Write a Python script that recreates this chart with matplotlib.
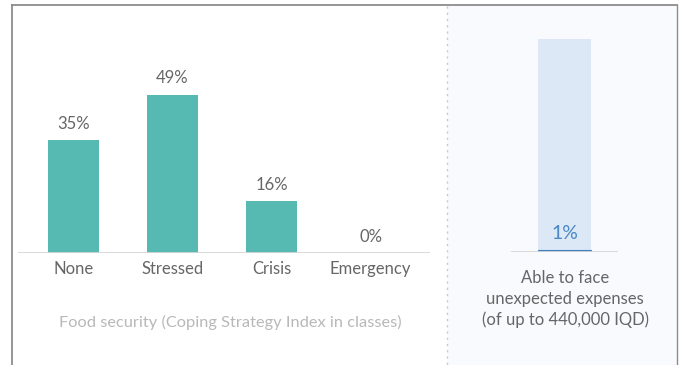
import matplotlib.pyplot as plt
from matplotlib.patches import Rectangle
from matplotlib.lines import Line2D

plt.rcParams['font.family'] = ['Lato', 'DejaVu Sans']

# Food security classes (CSI)
categories = ['None', 'Stressed', 'Crisis', 'Emergency']
shares = [35, 49, 16, 0]

# Ability to face unexpected expenses
expense_label = 'Able to face\nunexpected expenses\n(of up to 440,000 IQD)'
expense_share = 1

W, H = 684, 365
fig = plt.figure(figsize=(W / 100, H / 100), dpi=100)


def fx(px):
    return px / W


def fy(py):
    return 1 - py / H


# right panel background and outer frame
fig.patches.append(Rectangle((fx(447), 0), fx(677) - fx(447), fy(5),
                             transform=fig.transFigure, facecolor='#f8fafd',
                             edgecolor='none', zorder=-5))
frame = '#8c8c8c'
fig.lines.append(Line2D([fx(12), fx(677)], [fy(5), fy(5)], transform=fig.transFigure,
                        color=frame, lw=1.3))
fig.lines.append(Line2D([fx(12), fx(12)], [fy(5), 0], transform=fig.transFigure,
                        color=frame, lw=1.3))
fig.lines.append(Line2D([fx(677), fx(677)], [fy(5), 0], transform=fig.transFigure,
                        color=frame, lw=1.0))
fig.lines.append(Line2D([fx(447), fx(447)], [fy(6), 0], transform=fig.transFigure,
                        color='#c8c8c8', lw=1.0, ls=(0, (1.5, 3))))

text_col = '#666666'

# left chart
base = 253
ax = fig.add_axes([fx(18), fy(base), fx(430) - fx(18), (55 * 3.23) / H])
ax.set_xlim(-0.56, 3.6)
ax.set_ylim(0, 55)
ax.axis('off')
ax.bar(range(len(categories)), shares, width=0.515, color='#57bab2')
ax.axhline(0, color='#d6d6d6', lw=2)
for i, v in enumerate(shares):
    ax.annotate(f'{v}%', (i, v), xytext=(0, 6), textcoords='offset points',
                ha='center', va='bottom', fontsize=12, color=text_col)
    ax.annotate(categories[i], (i, 0), xytext=(0, -6), textcoords='offset points',
                ha='center', va='top', fontsize=12, color=text_col)
fig.text(fx(230), fy(322), 'Food security (Coping Strategy Index in classes)',
         ha='center', va='center', fontsize=11.8, color='#b8b8b8')

# right chart
rbase = 252
ax2 = fig.add_axes([fx(511), fy(rbase), fx(618) - fx(511), (rbase - 39) / H])
ax2.set_xlim(-1, 1)
ax2.set_ylim(0, 100)
ax2.axis('off')
ax2.bar(0, 100, width=1.0, color='#dce8f5')
ax2.axhline(0, color='#d6d6d6', lw=2)
ax2.bar(0, expense_share, width=1.0, color='#3f80c4', edgecolor='#3f80c4', lw=0.8)
ax2.annotate(f'{expense_share}%', (0, expense_share), xytext=(0, 6),
             textcoords='offset points', ha='center', va='bottom',
             fontsize=14, color='#4a88c8')
fig.text(fx(565), fy(299), expense_label, ha='center', va='center',
         fontsize=12, color=text_col, linespacing=1.38)

fig.savefig('out.png', dpi=100)
